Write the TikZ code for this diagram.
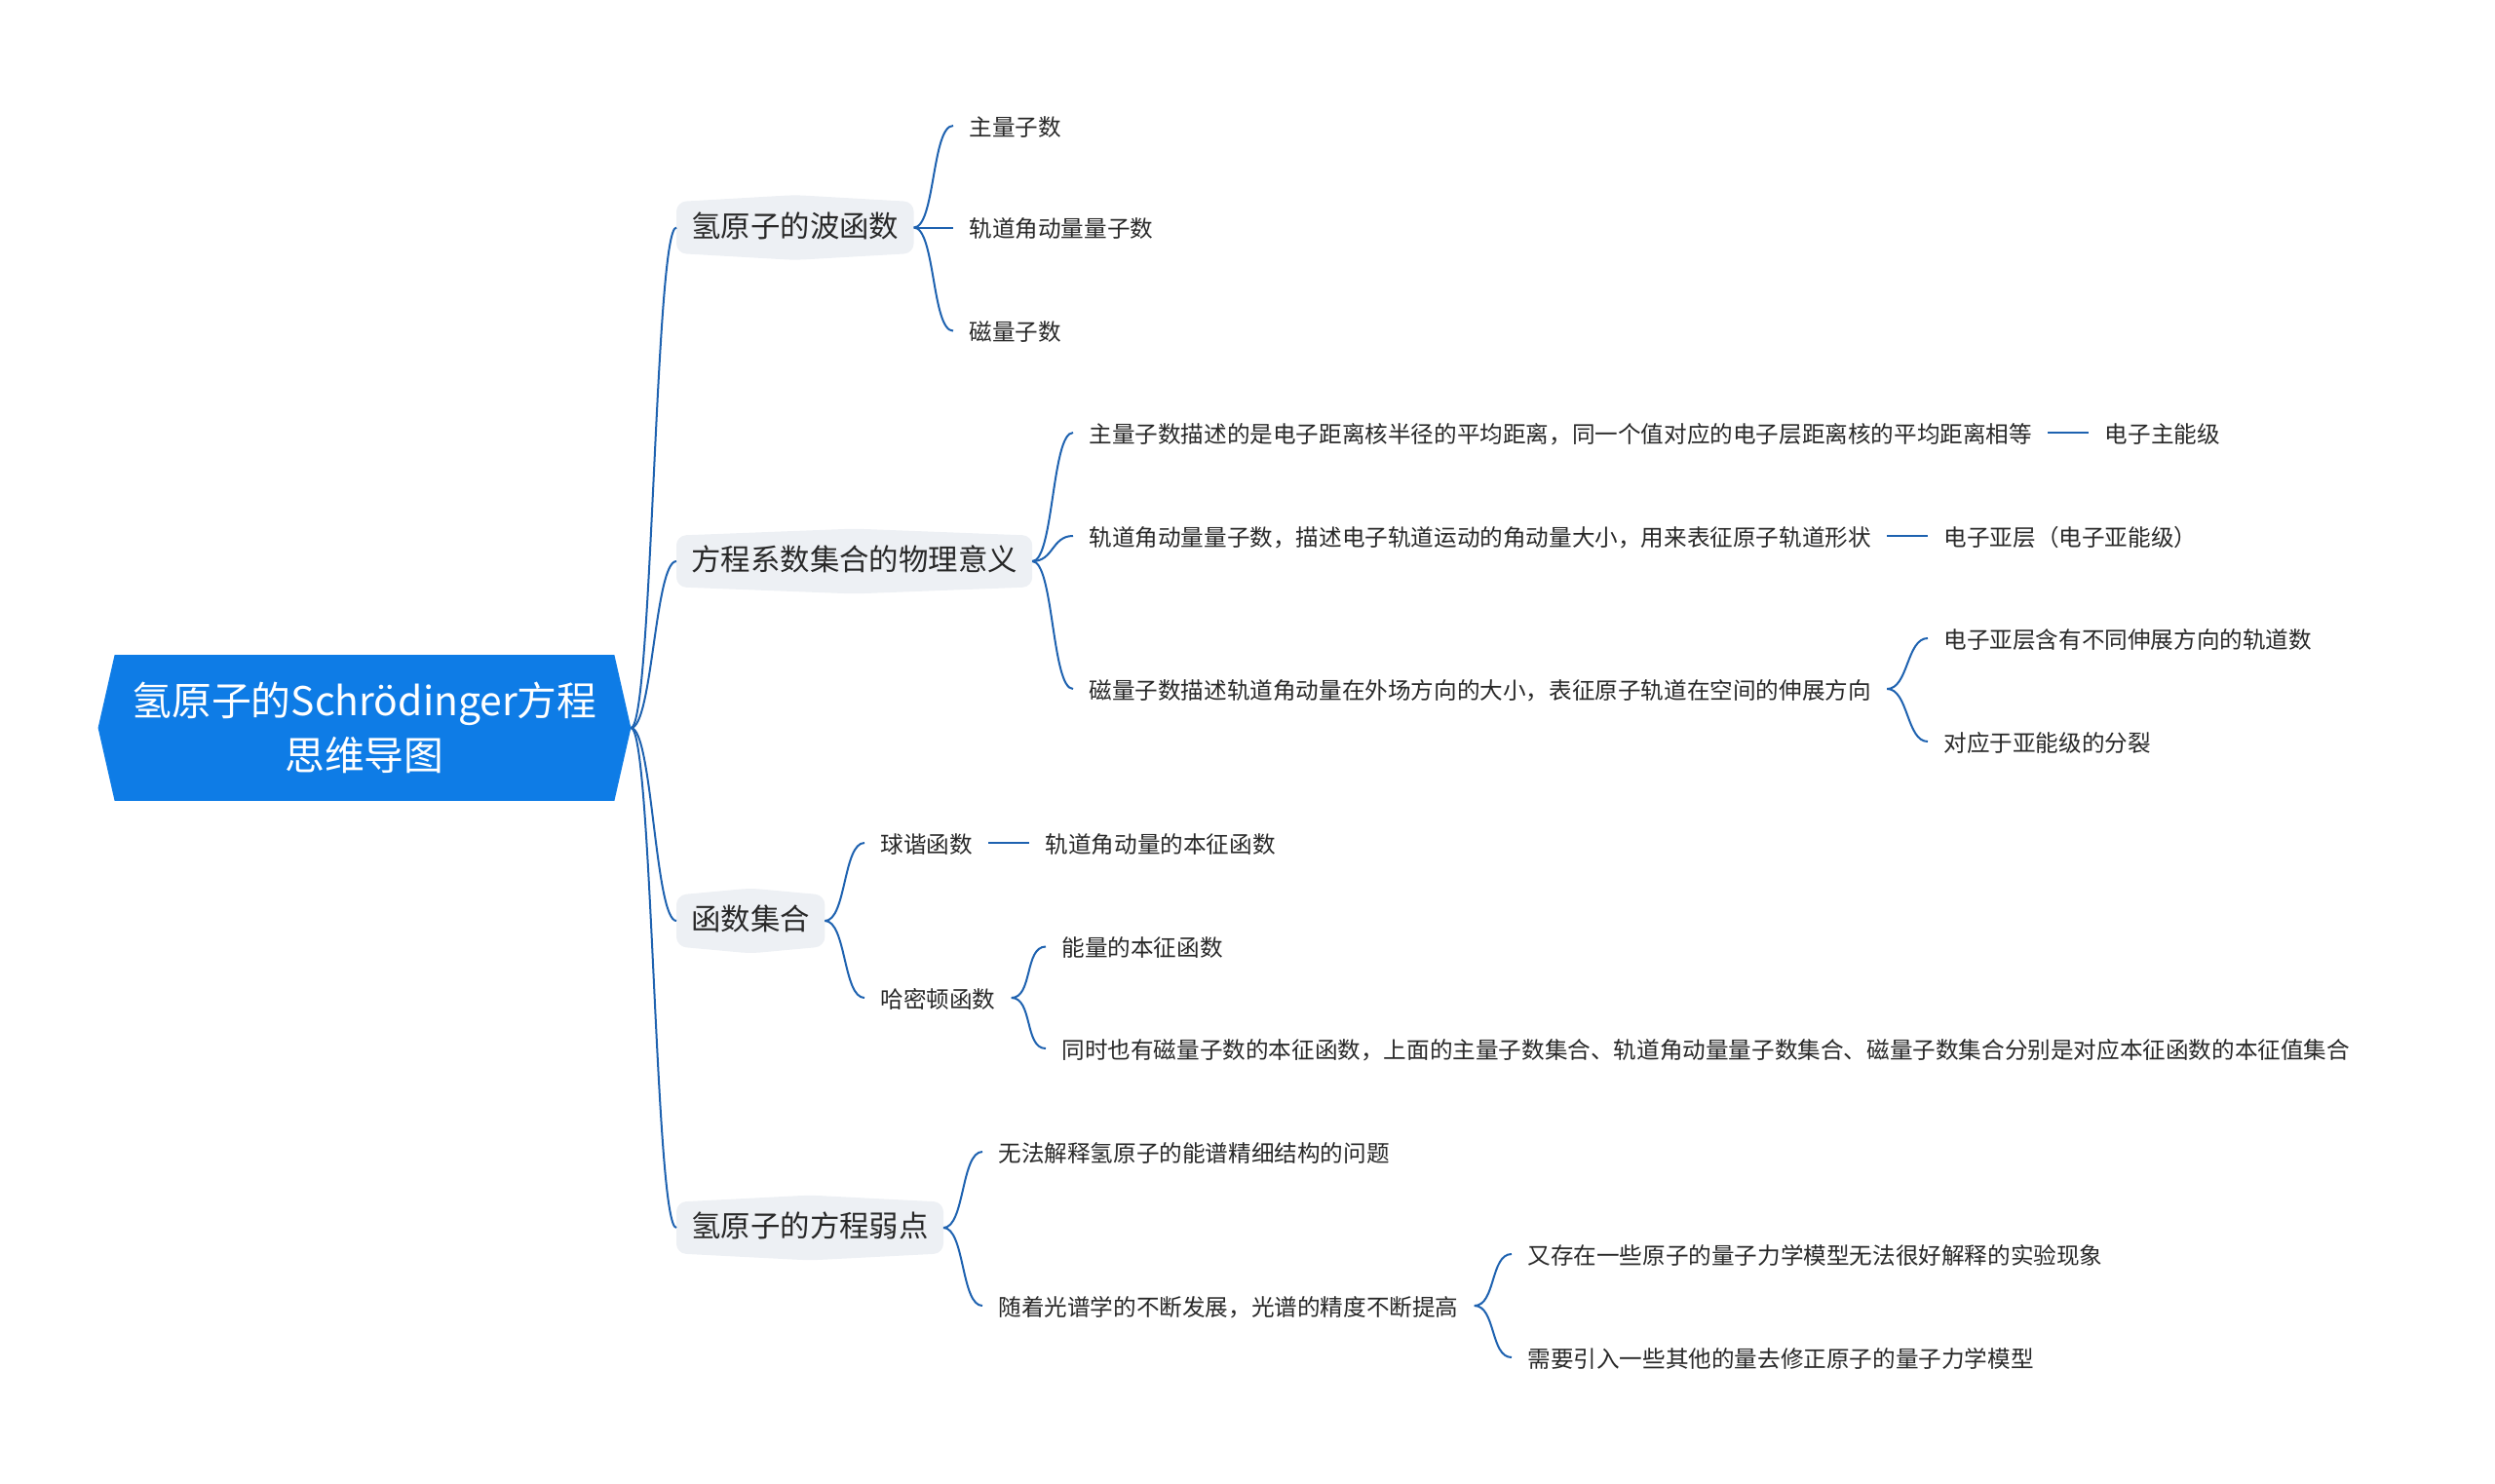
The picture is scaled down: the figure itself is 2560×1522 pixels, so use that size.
\documentclass[tikz,border=0pt]{standalone}
\usepackage{fontspec}
\setmainfont{Noto Sans CJK SC}
\usetikzlibrary{positioning, calc, backgrounds}

\definecolor{rootblue}{RGB}{14,124,230}
\definecolor{linkblue}{RGB}{30,98,176}
\definecolor{topicgray}{RGB}{237,240,244}
\definecolor{textgray}{RGB}{40,40,40}

\tikzset{
  root/.style={minimum width=256pt, minimum height=74.5pt, align=center,
    text=white, font=\fontsize{20.4pt}{27.8pt}\selectfont},
  topic/.style={anchor=west, inner xsep=7.5pt, inner ysep=0pt, minimum height=26pt,
    text height=.98em, text depth=.02em, text=textgray,
    font=\fontsize{15.2pt}{18pt}\selectfont},
  leaf/.style={anchor=west, inner xsep=8pt, inner ysep=1pt,
    text height=1em, text depth=0em, text=textgray,
    font=\fontsize{11.8pt}{14pt}\selectfont},
  link/.style={draw=linkblue, line width=1pt,
    to path={.. controls +(11pt,0) and +(-11pt,0) .. (\tikztotarget)}},
  bar/.style={draw=linkblue, line width=1.2pt}
}

\begin{document}
\begin{tikzpicture}[x=0.5pt, y=-0.5pt]
  \useasboundingbox (0,0) rectangle (2560,1522);

  % centre
  \node[root] (root) at (374,747) {氢原子的Schrödinger方程\\思维导图};
  \coordinate (tip) at ($(root.east)+(8.5pt,0)$);

  % main topics
  \node[topic] (t1) at (694,233.5) {氢原子的波函数};
  \node[topic] (t2) at (694,576) {方程系数集合的物理意义};
  \node[topic] (t3) at (694,945) {函数集合};
  \node[topic] (t4) at (694,1260) {氢原子的方程弱点};

  % topic 1
  \node[leaf] (a1) at (978,129) {主量子数};
  \node[leaf] (a2) at (978,233.5) {轨道角动量量子数};
  \node[leaf] (a3) at (978,339.6) {磁量子数};

  % topic 2
  \node[leaf] (b1) at (1101,444) {主量子数描述的是电子距离核半径的平均距离，同一个值对应的电子层距离核的平均距离相等};
  \node[leaf] (b1x) [right=21pt of b1] {电子主能级};
  \node[leaf] (b2) at (1101,550) {轨道角动量量子数，描述电子轨道运动的角动量大小，用来表征原子轨道形状};
  \node[leaf] (b2x) [right=21pt of b2] {电子亚层（电子亚能级）};
  \node[leaf] (b3) at (1101,707) {磁量子数描述轨道角动量在外场方向的大小，表征原子轨道在空间的伸展方向};
  \node[leaf] (b3a) at (1978,655) {电子亚层含有不同伸展方向的轨道数};
  \node[leaf] (b3b) at (1978,761) {对应于亚能级的分裂};

  % topic 3
  \node[leaf] (c1) at (887,865) {球谐函数};
  \node[leaf] (c1x) [right=21pt of c1] {轨道角动量的本征函数};
  \node[leaf] (c2) at (887,1024) {哈密顿函数};
  \node[leaf] (c2a) at (1073,971.5) {能量的本征函数};
  \node[leaf] (c2b) at (1073,1076) {同时也有磁量子数的本征函数，上面的主量子数集合、轨道角动量量子数集合、磁量子数集合分别是对应本征函数的本征值集合};

  % topic 4
  \node[leaf] (d1) at (1008,1182) {无法解释氢原子的能谱精细结构的问题};
  \node[leaf] (d2) at (1008,1340) {随着光谱学的不断发展，光谱的精度不断提高};
  \node[leaf] (d2a) at (1551,1287) {又存在一些原子的量子力学模型无法很好解释的实验现象};
  \node[leaf] (d2b) at (1551,1393) {需要引入一些其他的量去修正原子的量子力学模型};

  \begin{scope}[on background layer]
    \fill[rootblue] (root.north west) -- (root.north east) -- (tip)
      -- (root.south east) -- (root.south west)
      -- ($(root.west)+(-8.5pt,0)$) -- cycle;
    \foreach \t in {t1,t2,t3,t4}
      \fill[topicgray, rounded corners=5pt] (\t.north west)
        -- ($(\t.north)+(0,3.5pt)$) -- (\t.north east) -- (\t.south east)
        -- ($(\t.south)+(0,-3.5pt)$) -- (\t.south west) -- cycle;
  \end{scope}

  \path (tip) edge[link] (t1.west) edge[link] (t2.west)
              edge[link] (t3.west) edge[link] (t4.west);
  \path (t1.east) edge[link] (a1.west) edge[link] (a2.west) edge[link] (a3.west);
  \path (t2.east) edge[link] (b1.west) edge[link] (b2.west) edge[link] (b3.west);
  \path (b3.east) edge[link] (b3a.west) edge[link] (b3b.west);
  \path (t3.east) edge[link] (c1.west) edge[link] (c2.west);
  \path (c2.east) edge[link] (c2a.west) edge[link] (c2b.west);
  \path (t4.east) edge[link] (d1.west) edge[link] (d2.west);
  \path (d2.east) edge[link] (d2a.west) edge[link] (d2b.west);

  \draw[bar] (b1) -- (b1x);
  \draw[bar] (b2) -- (b2x);
  \draw[bar] (c1) -- (c1x);
\end{tikzpicture}
\end{document}
